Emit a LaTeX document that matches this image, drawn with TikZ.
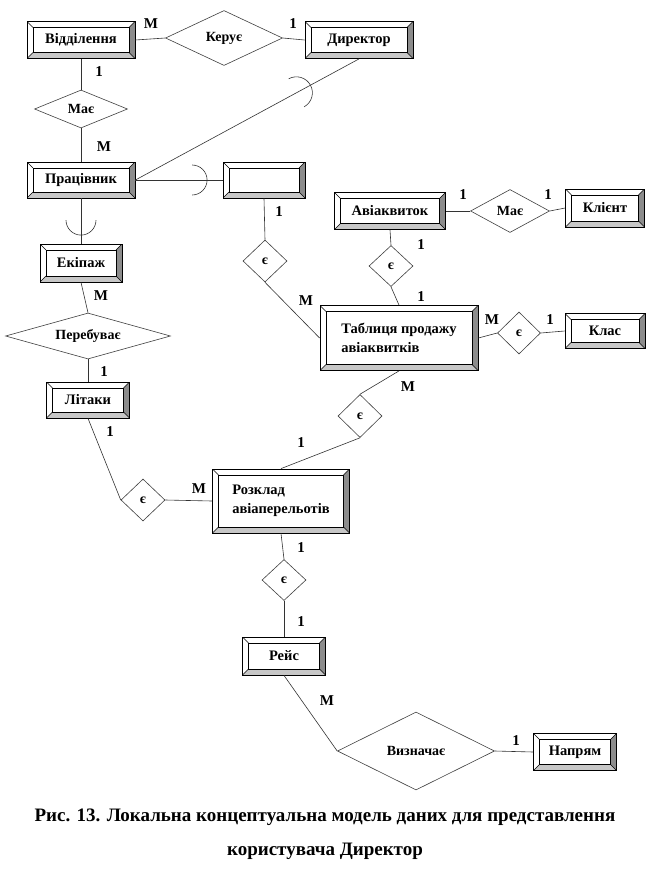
\documentclass[tikz,border=0pt]{standalone}
\usepackage{fontspec}
\setmainfont{Liberation Serif}
\usetikzlibrary{shapes.geometric}

\begin{document}
\begin{tikzpicture}[x = 1pt, y = -1pt]
\tikzstyle{EntityStyle}=[
shape = rectangle,
draw,
line width = 0.8pt,
inner sep = 0pt,
font = \bfseries\fontsize{14.5}{19}\selectfont,
path picture = {
\fill[black!45] (path picture bounding box.north east) -- (path picture bounding box.south east) -- ([shift={(-6pt,6pt)}]path picture bounding box.south east) -- ([shift={(-6pt,-6pt)}]path picture bounding box.north east) -- cycle;
\fill[black!22] (path picture bounding box.south east) -- (path picture bounding box.south west) -- ([shift={(6pt,6pt)}]path picture bounding box.south west) -- ([shift={(-6pt,6pt)}]path picture bounding box.south east) -- cycle;
\draw[line width = 0.6pt] (path picture bounding box.north west) -- ([shift={(6pt,-6pt)}]path picture bounding box.north west);
\draw[line width = 0.6pt] (path picture bounding box.north east) -- ([shift={(-6pt,-6pt)}]path picture bounding box.north east);
\draw[line width = 0.6pt] (path picture bounding box.south west) -- ([shift={(6pt,6pt)}]path picture bounding box.south west);
\draw[line width = 0.6pt] (path picture bounding box.south east) -- ([shift={(-6pt,6pt)}]path picture bounding box.south east);
\draw[line width = 0.8pt] ([shift={(6pt,6pt)}]path picture bounding box.south west) rectangle ([shift={(-6pt,-6pt)}]path picture bounding box.north east);
}]
\tikzstyle{RelationStyle}=[
shape = diamond,
draw = black!75,
line width = 0.6pt,
inner sep = 0pt,
font = \bfseries\fontsize{14}{16}\selectfont]
\tikzstyle{CardStyle}=[
inner sep = 0pt,
font = \bfseries\fontsize{15}{17}\selectfont]
\tikzstyle{LinkStyle}=[
draw = black!80,
line width = 0.6pt]

\path[fill = white] (0,0) rectangle (651,895);

\node[EntityStyle, minimum width = 108pt, minimum height = 37pt] (vid) at (81,40) {Відділення};
\node[RelationStyle, minimum width = 117pt, minimum height = 55pt, shape aspect = 2.1] (keruye) at (224,38) {Керує};
\node[EntityStyle, minimum width = 108pt, minimum height = 37pt] (dyr) at (359,40) {Директор};
\node[RelationStyle, minimum width = 93pt, minimum height = 38pt, shape aspect = 2.4] (maye1) at (81,109) {Має};
\node[EntityStyle, minimum width = 108pt, minimum height = 36pt] (prac) at (81,180) {Працівник};
\node[EntityStyle, minimum width = 82pt, minimum height = 36pt] (blank) at (264,180) {};
\node[EntityStyle, minimum width = 82pt, minimum height = 38pt] (ekip) at (81,263) {Екіпаж};
\node[RelationStyle, minimum width = 165pt, minimum height = 46pt, shape aspect = 3.5] (pereb) at (88,336) {Перебуває};
\node[EntityStyle, minimum width = 83pt, minimum height = 36pt] (lit) at (88,400) {Літаки};
\node[EntityStyle, minimum width = 111pt, minimum height = 37pt] (avia) at (390,211) {Авіаквиток};
\node[RelationStyle, minimum width = 79pt, minimum height = 43pt, shape aspect = 1.8] (maye2) at (510,211) {Має};
\node[EntityStyle, minimum width = 79pt, minimum height = 38pt] (klient) at (605,208) {Клієнт};
\node[RelationStyle, minimum width = 44pt, minimum height = 41pt] (ye5) at (391,266) {є};
\node[EntityStyle, minimum width = 158pt, minimum height = 65pt, align = left] (tabl) at (399,338) {Таблиця продажу\\авіаквитків};
\node[RelationStyle, minimum width = 43pt, minimum height = 42pt] (ye6) at (519,333) {є};
\node[EntityStyle, minimum width = 80pt, minimum height = 35pt] (klas) at (605,331) {Клас};
\node[RelationStyle, minimum width = 44pt, minimum height = 42pt] (ye4) at (265,261) {є};
\node[RelationStyle, minimum width = 44pt, minimum height = 43pt] (ye2) at (360,416) {є};
\node[RelationStyle, minimum width = 44pt, minimum height = 42pt] (ye1) at (143,500) {є};
\node[EntityStyle, minimum width = 137pt, minimum height = 64pt, align = left] (rozk) at (281,501) {Розклад\\авіаперельотів};
\node[RelationStyle, minimum width = 44pt, minimum height = 41pt] (ye3) at (284,580) {є};
\node[EntityStyle, minimum width = 83pt, minimum height = 38pt] (reys) at (284,656) {Рейс};
\node[RelationStyle, minimum width = 157pt, minimum height = 78pt, shape aspect = 2] (vyzn) at (416,751) {Визначає};
\node[EntityStyle, minimum width = 83pt, minimum height = 37pt] (napr) at (575,752) {Напрям};

\draw[LinkStyle] (vid.east) -- (keruye.west);
\draw[LinkStyle] (keruye.east) -- (dyr.west);
\draw[LinkStyle] (vid.south) -- (maye1.north);
\draw[LinkStyle] (maye1.south) -- (prac.north);
\draw[LinkStyle] (dyr.south) -- coordinate[pos = 0.28] (hopd) (prac.east);
\draw[LinkStyle] (prac.east) -- coordinate[pos = 0.65] (hopb) (blank.west);
\draw[LinkStyle] (prac.south) -- coordinate[pos = 0.48] (hope) (ekip.north);
\draw[LinkStyle] (ekip.south) -- (pereb.north);
\draw[LinkStyle] (pereb.south) -- (lit.north);
\draw[LinkStyle] (lit.south) -- (ye1.west);
\draw[LinkStyle] (ye1.east) -- (rozk.west);
\draw[LinkStyle] (rozk.north) -- (ye2.south);
\draw[LinkStyle] (ye2.north) -- (tabl.south);
\draw[LinkStyle] (rozk.south) -- (ye3.north);
\draw[LinkStyle] (ye3.south) -- (reys.north);
\draw[LinkStyle] (reys.south) -- (vyzn.west);
\draw[LinkStyle] (vyzn.east) -- (napr.west);
\draw[LinkStyle] (blank.south) -- (ye4.north);
\draw[LinkStyle] (ye4.south) -- (tabl.west);
\draw[LinkStyle] (avia.east) -- (maye2.west);
\draw[LinkStyle] (maye2.east) -- (klient.west);
\draw[LinkStyle] (avia.south) -- (ye5.north);
\draw[LinkStyle] (ye5.south) -- (tabl.north);
\draw[LinkStyle] (tabl.east) -- (ye6.west);
\draw[LinkStyle] (ye6.east) -- (klas.west);

\draw[LinkStyle] (hopd) ++(-118.7:16) arc[start angle = -118.7, end angle = 61.3, radius = 16];
\draw[LinkStyle] (hopb) ++(-90:15) arc[start angle = -90, end angle = 90, radius = 15];
\draw[LinkStyle] (hope) ++(180:15) arc[start angle = 180, end angle = 0, radius = 15];

\node[CardStyle] (c1) at (151,24) {M};
\node[CardStyle] (c2) at (293,24) {1};
\node[CardStyle] (c3) at (99,72) {1};
\node[CardStyle] (c4) at (104,147) {M};
\node[CardStyle] (c5) at (279,212) {1};
\node[CardStyle] (c6) at (306,301) {M};
\node[CardStyle] (c7) at (101,296) {M};
\node[CardStyle] (c8) at (104,372) {1};
\node[CardStyle] (c9) at (110,432) {1};
\node[CardStyle] (c10) at (463,195) {1};
\node[CardStyle] (c11) at (548,195) {1};
\node[CardStyle] (c12) at (421,245) {1};
\node[CardStyle] (c13) at (421,297) {1};
\node[CardStyle] (c14) at (492,320) {M};
\node[CardStyle] (c15) at (550,320) {1};
\node[CardStyle] (c16) at (408,387) {M};
\node[CardStyle] (c17) at (301,443) {1};
\node[CardStyle] (c18) at (199,489) {M};
\node[CardStyle] (c19) at (301,548) {1};
\node[CardStyle] (c20) at (301,622) {1};
\node[CardStyle] (c21) at (327,701) {M};
\node[CardStyle] (c22) at (516,741) {1};

\node[font = \bfseries\fontsize{19}{22}\selectfont] (cap1) at (325,817) {Рис. 13. Локальна концептуальна модель даних для представлення};
\node[font = \bfseries\fontsize{19}{22}\selectfont] (cap2) at (325,851) {користувача Директор};
\end{tikzpicture}
\end{document}
